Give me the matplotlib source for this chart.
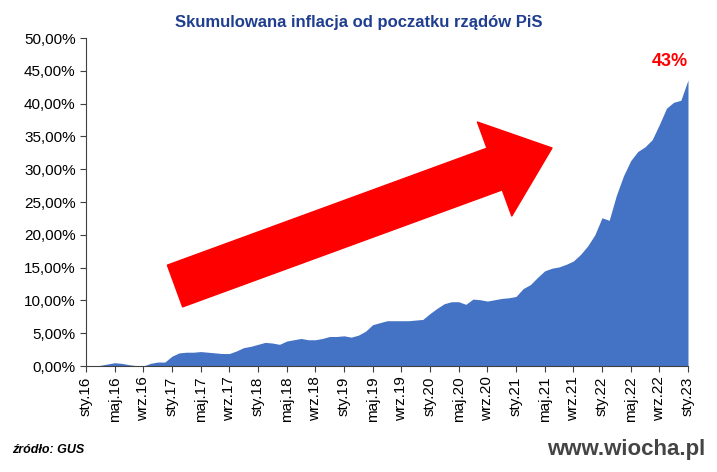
import matplotlib
matplotlib.use("Agg")
import matplotlib.pyplot as plt
import numpy as np

plt.rcParams['font.family'] = ['Liberation Sans', 'DejaVu Sans']

values = [
    0.0, 0.0, 0.1, 0.3, 0.5, 0.4, 0.2, 0.05, 0.0, 0.4, 0.6, 0.6,
    1.5, 2.0, 2.1, 2.1, 2.2, 2.1, 2.0, 1.9, 1.9, 2.3, 2.8, 3.0,
    3.3, 3.6, 3.5, 3.3, 3.8, 4.0, 4.2, 4.0, 4.0, 4.2, 4.5, 4.5,
    4.6, 4.4, 4.7, 5.3, 6.3, 6.6, 6.9, 6.9, 6.9, 6.9, 7.0, 7.1,
    8.0, 8.8, 9.5, 9.8, 9.8, 9.4, 10.2, 10.1, 9.9, 10.1, 10.3, 10.4,
    10.6, 11.8, 12.4, 13.5, 14.5, 14.9, 15.1, 15.5, 16.0, 17.0, 18.3, 20.0,
    22.6, 22.2, 26.0, 29.0, 31.3, 32.7, 33.4, 34.5, 36.8, 39.3, 40.2, 40.5,
    43.6,
]
months = ['sty', 'maj', 'wrz']
years = list(range(16, 24))
tick_labels = [f"{m}.{y}" for y in years for m in months][:-2]

x = np.arange(len(values))

fig = plt.figure(figsize=(7.17, 4.72), dpi=100)
ax = fig.add_axes([86/717, 1-366/472, (688-86)/717, (366-38)/472])
ax.fill_between(x, values, 0, color='#4472C4', linewidth=0)
ax.set_xlim(0, 84)
ax.set_ylim(0, 50)
ax.set_yticks(np.arange(0, 51, 5))
ax.set_yticklabels([f"{v:.2f}%".replace('.', ',') for v in np.arange(0, 51, 5)], fontsize=11)
ax.set_xticks(np.arange(0, 85, 4))
ax.set_xticklabels(tick_labels, rotation=90, fontsize=11)
for s in ['top', 'right']:
    ax.spines[s].set_visible(False)
for s in ['left', 'bottom']:
    ax.spines[s].set_color('#404040')
ax.tick_params(axis='both', direction='out', length=4, color='#404040')

fig.text(0.5, 1-22/472, "Skumulowana inflacja od poczatku rządów PiS", ha='center', va='center',
         fontsize=12, fontweight='bold', color='#1F3E8F')
ax.text(84, values[-1] + 1.5, "43%", ha='right', va='bottom', fontsize=13,
        fontweight='bold', color='#FF0000')

ax.annotate("", xy=(552, 472-148), xycoords='figure pixels',
            xytext=(175, 472-286), textcoords='figure pixels',
            arrowprops=dict(arrowstyle="simple,head_length=2.2,head_width=3.6,tail_width=1.6",
                            mutation_scale=20, color='#FF0000', shrinkA=0, shrinkB=0))

fig.text(12/717, 1-450/472, "źródło: GUS", ha='left', va='center', fontsize=9,
         fontweight='bold', fontstyle='italic', color='#000000')
fig.text(705/717, 1-450/472, "www.wiocha.pl", ha='right', va='center', fontsize=16,
         fontweight='bold', color='#444444')

fig.savefig("out.png", dpi=100)
